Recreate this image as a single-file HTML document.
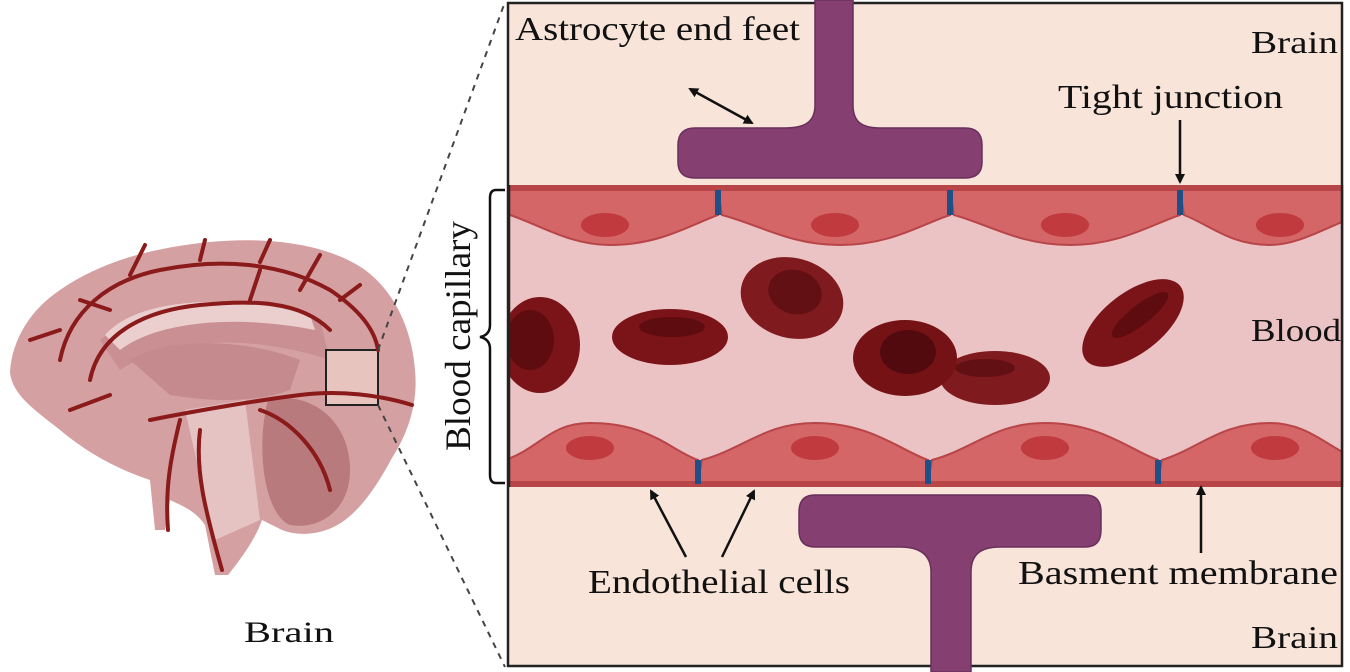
<!DOCTYPE html>
<html><head><meta charset="utf-8"><style>
html,body{margin:0;padding:0;background:#fff;}
svg{display:block;}
text{font-family:"Liberation Serif",serif;fill:#111;}
</style></head><body>
<svg width="1350" height="672" viewBox="0 0 1350 672" xmlns="http://www.w3.org/2000/svg">
<defs>
<marker id="ah" markerWidth="10" markerHeight="10" refX="8" refY="5" orient="auto" markerUnits="userSpaceOnUse"><path d="M0,0 L10,5 L0,10 Z" fill="#111"/></marker>
<marker id="ahs" markerWidth="10" markerHeight="10" refX="2" refY="5" orient="auto" markerUnits="userSpaceOnUse"><path d="M10,0 L0,5 L10,10 Z" fill="#111"/></marker>
<clipPath id="cap"><rect x="509" y="185" width="832" height="302"/></clipPath>
</defs>

<!-- Brain -->
<g>
<path d="M10,372 C12,340 30,310 60,290 C100,262 150,248 210,242 C270,236 330,245 365,270 C395,292 412,330 415,370 C418,400 410,430 392,458 C380,480 365,505 345,520 C325,535 300,537 282,530 L262,520 C255,540 240,560 228,575 L215,575 L205,525 C195,510 180,505 170,500 L165,530 L155,530 L150,480 C120,470 90,455 60,430 C35,410 12,395 10,372 Z" fill="#d4a0a2"/>
<path d="M100,340 C150,300 250,300 320,320 L330,360 C270,340 180,330 120,370 Z" fill="#c98f92"/>
<path d="M105,335 C140,295 240,295 310,315 L315,330 C240,315 160,320 120,350 Z" fill="#ebcfcf"/>
<path d="M130,360 C170,335 250,340 300,360 L290,390 C250,405 200,400 170,395 Z" fill="#c48a8d"/>
<path d="M185,410 L245,400 L260,520 L215,540 Z" fill="#e6c3c3"/>
<path d="M268,400 C310,390 350,420 350,470 C350,510 320,530 290,525 C265,515 255,450 268,400 Z" fill="#b97a7e"/>
<rect x="326" y="350" width="52" height="55" fill="#e8c4be" stroke="#222" stroke-width="2"/>
<g fill="none" stroke="#8b1a1a" stroke-width="4" stroke-linecap="round">
<path d="M60,360 C70,310 110,280 160,270 C220,258 280,262 330,290 C360,310 375,330 378,350"/>
<path d="M90,380 C100,330 150,310 200,305 C250,300 300,300 330,330"/>
<path d="M150,420 C200,410 260,400 300,395 C340,390 380,395 412,405"/>
<path d="M180,420 C170,460 165,490 168,530"/>
<path d="M200,430 C195,470 205,510 222,570"/>
<path d="M260,410 C290,420 320,450 330,490"/>
<path d="M130,275 L145,245 M200,260 L205,240 M260,262 L270,240 M300,290 L320,255 M110,310 L80,300 M60,330 L30,340 M110,395 L70,410 M250,300 L260,270 M340,300 L360,285"/>
</g>
</g>
<text x="244" y="642" font-size="30" textLength="90" lengthAdjust="spacingAndGlyphs">Brain</text>

<!-- dashed zoom lines -->
<line x1="378" y1="350" x2="505" y2="2" stroke="#444" stroke-width="2" stroke-dasharray="6,6"/>
<line x1="378" y1="405" x2="505" y2="667" stroke="#444" stroke-width="2" stroke-dasharray="6,6"/>

<!-- Panel -->
<rect x="508" y="3" width="834" height="663" fill="#f8e4d8" stroke="#222" stroke-width="2.5"/>

<!-- astrocyte top -->
<path d="M815,0 L853,0 L853,105 C853,122 862,128 880,128 L965,128 Q982,128 982,145 L982,162 Q982,178 965,178 L695,178 Q678,178 678,162 L678,145 Q678,128 695,128 L785,128 C805,128 815,122 815,105 Z" fill="#853f70" stroke="#6a2f5c" stroke-width="1.5"/>
<!-- astrocyte bottom -->
<path d="M931,672 L971,672 L971,572 C971,555 980,547 1000,547 L1085,547 Q1101,547 1101,530 L1101,512 Q1101,495 1085,495 L815,495 Q799,495 799,512 L799,530 Q799,547 815,547 L900,547 C920,547 931,555 931,572 Z" fill="#853f70" stroke="#6a2f5c" stroke-width="1.5"/>

<!-- capillary -->
<g clip-path="url(#cap)">
<rect x="509" y="185" width="832" height="302" fill="#ecc3c4"/>
<g fill="#d46668" stroke="#b84548" stroke-width="2">
<path d="M490,190 L718,190 L718,215 C690,225 660,245 610,245 C570,245 540,225 510,215 Z"/>
<path d="M718,190 L950,190 L950,215 C920,225 890,245 840,245 C790,245 760,225 722,215 Z"/>
<path d="M950,190 L1180,190 L1180,215 C1150,225 1120,245 1070,245 C1020,245 990,225 954,215 Z"/>
<path d="M1180,190 L1360,190 L1360,215 C1330,225 1300,245 1270,245 C1230,245 1210,225 1184,215 Z"/>
</g>
<rect x="509" y="185" width="832" height="6" fill="#b84548"/>
<g fill="#c03a3e"><ellipse cx="605" cy="225" rx="24" ry="12"/><ellipse cx="835" cy="225" rx="24" ry="12"/><ellipse cx="1065" cy="225" rx="24" ry="12"/><ellipse cx="1280" cy="225" rx="24" ry="12"/></g>
<g fill="#1f4f86"><rect x="715" y="190" width="6" height="25"/><rect x="947" y="190" width="6" height="25"/><rect x="1177" y="190" width="6" height="25"/></g>
<g fill="#d46668" stroke="#b84548" stroke-width="2">
<path d="M500,482 L698,482 L698,460 C670,450 650,423 590,423 C550,423 540,448 505,460 Z"/>
<path d="M698,482 L928,482 L928,460 C900,450 870,423 815,423 C765,423 745,448 702,460 Z"/>
<path d="M928,482 L1158,482 L1158,460 C1130,450 1100,423 1045,423 C995,423 975,448 932,460 Z"/>
<path d="M1158,482 L1360,482 L1360,460 C1330,450 1310,423 1270,423 C1220,423 1200,448 1162,460 Z"/>
</g>
<rect x="509" y="482" width="832" height="5" fill="#b84548"/>
<g fill="#c03a3e"><ellipse cx="590" cy="448" rx="24" ry="12"/><ellipse cx="815" cy="448" rx="24" ry="12"/><ellipse cx="1045" cy="448" rx="24" ry="12"/><ellipse cx="1275" cy="448" rx="24" ry="12"/></g>
<g fill="#1f4f86"><rect x="695" y="460" width="6" height="24"/><rect x="925" y="460" width="6" height="24"/><rect x="1155" y="460" width="6" height="24"/></g>

<g>
<ellipse cx="540" cy="345" rx="40" ry="48" fill="#7a1418"/><ellipse cx="530" cy="340" rx="24" ry="30" fill="#5e0c10"/>
<ellipse cx="670" cy="337" rx="58" ry="28" fill="#7a1418"/><ellipse cx="672" cy="327" rx="33" ry="10" fill="#5e0c10"/>
<ellipse cx="792" cy="298" rx="52" ry="40" fill="#7f1a1e" transform="rotate(15 792 298)"/><ellipse cx="795" cy="292" rx="27" ry="22" fill="#631015" transform="rotate(15 795 292)"/>
<ellipse cx="995" cy="378" rx="55" ry="27" fill="#7f1a1e"/><ellipse cx="985" cy="368" rx="30" ry="9" fill="#631015"/>
<ellipse cx="905" cy="358" rx="52" ry="38" fill="#741216"/><ellipse cx="908" cy="352" rx="28" ry="22" fill="#520a0e"/>
<ellipse cx="1133" cy="323" rx="60" ry="30" fill="#7a1418" transform="rotate(-38 1133 323)"/><ellipse cx="1140" cy="315" rx="35" ry="10" fill="#5e0c10" transform="rotate(-38 1140 315)"/>
</g>
</g>
<line x1="509" y1="185" x2="509" y2="487" stroke="#222" stroke-width="2.5"/>
<line x1="1342" y1="185" x2="1342" y2="487" stroke="#222" stroke-width="2.5"/>

<!-- brace -->
<path d="M505,190 L496,190 Q490,190 490,198 L490,325 Q490,335 480,337 Q490,339 490,349 L490,475 Q490,483 496,483 L505,483" fill="none" stroke="#111" stroke-width="2.5"/>
<text transform="translate(470,336) rotate(-90)" text-anchor="middle" font-size="36" textLength="230" lengthAdjust="spacingAndGlyphs">Blood capillary</text>

<!-- labels -->
<text x="515" y="40" font-size="34" textLength="285" lengthAdjust="spacingAndGlyphs">Astrocyte end feet</text>
<text x="1251" y="53" font-size="32" textLength="87" lengthAdjust="spacingAndGlyphs">Brain</text>
<text x="1058" y="108" font-size="34" textLength="225" lengthAdjust="spacingAndGlyphs">Tight junction</text>
<text x="1251" y="341" font-size="32" textLength="90" lengthAdjust="spacingAndGlyphs">Blood</text>
<text x="588" y="593" font-size="34" textLength="262" lengthAdjust="spacingAndGlyphs">Endothelial cells</text>
<text x="1018" y="584" font-size="34" textLength="320" lengthAdjust="spacingAndGlyphs">Basment membrane</text>
<text x="1251" y="648" font-size="32" textLength="87" lengthAdjust="spacingAndGlyphs">Brain</text>

<g stroke="#111" stroke-width="2.5" fill="none">
<line x1="690" y1="89" x2="752" y2="123" marker-start="url(#ahs)" marker-end="url(#ah)"/>
<line x1="1180" y1="120" x2="1180" y2="182" marker-end="url(#ah)"/>
<line x1="686" y1="557" x2="651" y2="491" marker-end="url(#ah)"/>
<line x1="722" y1="557" x2="754" y2="491" marker-end="url(#ah)"/>
<line x1="1201" y1="553" x2="1201" y2="487" marker-end="url(#ah)"/>
</g>
</svg>
</body></html>
